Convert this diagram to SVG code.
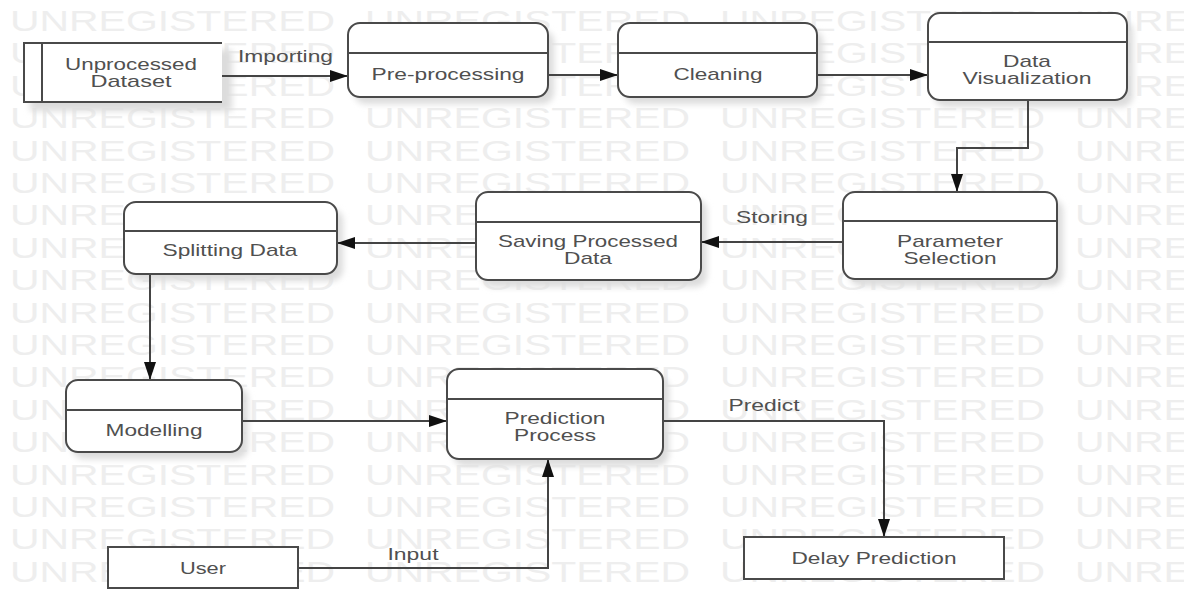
<svg xmlns="http://www.w3.org/2000/svg" xmlns:xlink="http://www.w3.org/1999/xlink" width="1184" height="590" viewBox="0 0 1184 590">
<style>
.wm{font-family:"Liberation Sans",Arial,sans-serif;font-size:29px;fill:#eeeeee}
.box{fill:#fff;stroke:#4a4a4a;stroke-width:2}
.div{stroke:#4a4a4a;stroke-width:2;fill:none}
.sh{fill:#dcdcdc;filter:url(#blur)}
.t{font-family:"Liberation Sans",Arial,sans-serif;font-size:17px;fill:#505050;text-anchor:middle}
.c{fill:none;stroke:#444;stroke-width:2;marker-end:url(#ah)}
</style>
<defs>
<filter id="blur" x="-10%" y="-20%" width="120%" height="140%"><feGaussianBlur stdDeviation="3"/></filter>
<marker id="ah" markerUnits="userSpaceOnUse" markerWidth="18" markerHeight="12" refX="18" refY="6" orient="auto"><path d="M0,0 L18,6 L0,12 z" fill="#111"/></marker>
<g id="wmrow">
<text class="wm" x="10" y="0" textLength="325" lengthAdjust="spacingAndGlyphs">UNREGISTERED</text>
<text class="wm" x="365" y="0" textLength="325" lengthAdjust="spacingAndGlyphs">UNREGISTERED</text>
<text class="wm" x="720" y="0" textLength="325" lengthAdjust="spacingAndGlyphs">UNREGISTERED</text>
<text class="wm" x="1075" y="0" textLength="325" lengthAdjust="spacingAndGlyphs">UNREGISTERED</text>
</g>
</defs>
<rect width="1184" height="590" fill="#fff"/>
<g id="watermark">
<use xlink:href="#wmrow" y="31"/>
<use xlink:href="#wmrow" y="63"/>
<use xlink:href="#wmrow" y="96"/>
<use xlink:href="#wmrow" y="128"/>
<use xlink:href="#wmrow" y="161"/>
<use xlink:href="#wmrow" y="193"/>
<use xlink:href="#wmrow" y="225"/>
<use xlink:href="#wmrow" y="258"/>
<use xlink:href="#wmrow" y="290"/>
<use xlink:href="#wmrow" y="323"/>
<use xlink:href="#wmrow" y="355"/>
<use xlink:href="#wmrow" y="387"/>
<use xlink:href="#wmrow" y="420"/>
<use xlink:href="#wmrow" y="452"/>
<use xlink:href="#wmrow" y="485"/>
<use xlink:href="#wmrow" y="517"/>
<use xlink:href="#wmrow" y="549"/>
<use xlink:href="#wmrow" y="582"/>
</g>
<g id="shadows">
<rect class="sh" x="30" y="50" width="202" height="61"/>
<rect class="sh" x="354" y="30" width="200" height="74" rx="12"/>
<rect class="sh" x="624" y="30" width="199" height="74" rx="12"/>
<rect class="sh" x="934" y="20" width="199" height="87" rx="12"/>
<rect class="sh" x="849" y="199" width="214" height="87" rx="12"/>
<rect class="sh" x="482" y="199" width="225" height="88" rx="12"/>
<rect class="sh" x="130" y="209" width="213" height="72" rx="12"/>
<rect class="sh" x="72" y="387" width="176" height="72" rx="12"/>
<rect class="sh" x="453" y="376" width="216" height="90" rx="12"/>
</g>
<g id="connectors">
<path class="c" d="M222,76 H348"/>
<path class="c" d="M548,75 H618"/>
<path class="c" d="M817,75 H928"/>
<path class="c" d="M1028,100 V148 H957 V192"/>
<path class="c" d="M843,242 H701"/>
<path class="c" d="M476,243 H337"/>
<path class="c" d="M150,274 V380"/>
<path class="c" d="M242,421 H447"/>
<path class="c" d="M663,421 H884 V537"/>
<path class="c" d="M298,568 H548 V459"/>
<text class="t" x="285.5" y="62" textLength="95" lengthAdjust="spacingAndGlyphs">Importing</text>
<text class="t" x="772" y="223" textLength="72" lengthAdjust="spacingAndGlyphs">Storing</text>
<text class="t" x="764" y="411" textLength="71" lengthAdjust="spacingAndGlyphs">Predict</text>
<text class="t" x="413" y="560" textLength="51" lengthAdjust="spacingAndGlyphs">Input</text>
</g>
<g id="unprocessed">
<rect x="24" y="43" width="198" height="59" fill="#fff"/>
<path class="div" d="M222,43 H24 V102 H222 M42,43 V102"/>
<text class="t" x="131" y="70" textLength="132" lengthAdjust="spacingAndGlyphs">Unprocessed</text>
<text class="t" x="131" y="87" textLength="81" lengthAdjust="spacingAndGlyphs">Dataset</text>
</g>
<g id="preprocessing">
<rect class="box" x="348" y="23" width="200" height="74" rx="12"/>
<path class="div" d="M348,53 H548"/>
<text class="t" x="448" y="80" textLength="153" lengthAdjust="spacingAndGlyphs">Pre-processing</text>
</g>
<g id="cleaning">
<rect class="box" x="618" y="23" width="199" height="74" rx="12"/>
<path class="div" d="M618,53 H817"/>
<text class="t" x="718" y="80" textLength="89" lengthAdjust="spacingAndGlyphs">Cleaning</text>
</g>
<g id="datavis">
<rect class="box" x="928" y="13" width="199" height="87" rx="12"/>
<path class="div" d="M928,42 H1127"/>
<text class="t" x="1027" y="67" textLength="48" lengthAdjust="spacingAndGlyphs">Data</text>
<text class="t" x="1027" y="84" textLength="129" lengthAdjust="spacingAndGlyphs">Visualization</text>
</g>
<g id="parameter">
<rect class="box" x="843" y="192" width="214" height="87" rx="12"/>
<path class="div" d="M843,221 H1057"/>
<text class="t" x="950" y="247" textLength="106" lengthAdjust="spacingAndGlyphs">Parameter</text>
<text class="t" x="950" y="264" textLength="93" lengthAdjust="spacingAndGlyphs">Selection</text>
</g>
<g id="saving">
<rect class="box" x="476" y="192" width="225" height="88" rx="12"/>
<path class="div" d="M476,222 H701"/>
<text class="t" x="588" y="247" textLength="180" lengthAdjust="spacingAndGlyphs">Saving Processed</text>
<text class="t" x="588" y="264" textLength="48" lengthAdjust="spacingAndGlyphs">Data</text>
</g>
<g id="splitting">
<rect class="box" x="124" y="202" width="213" height="72" rx="12"/>
<path class="div" d="M124,231 H337"/>
<text class="t" x="230" y="256" textLength="135" lengthAdjust="spacingAndGlyphs">Splitting Data</text>
</g>
<g id="modelling">
<rect class="box" x="66" y="380" width="176" height="72" rx="12"/>
<path class="div" d="M66,410 H242"/>
<text class="t" x="154" y="436" textLength="97" lengthAdjust="spacingAndGlyphs">Modelling</text>
</g>
<g id="prediction">
<rect class="box" x="447" y="369" width="216" height="90" rx="12"/>
<path class="div" d="M447,399 H663"/>
<text class="t" x="555" y="424" textLength="101" lengthAdjust="spacingAndGlyphs">Prediction</text>
<text class="t" x="555" y="441" textLength="82" lengthAdjust="spacingAndGlyphs">Process</text>
</g>
<g id="delay">
<rect class="box" x="744" y="537" width="260" height="42"/>
<text class="t" x="874" y="564" textLength="165" lengthAdjust="spacingAndGlyphs">Delay Prediction</text>
</g>
<g id="user">
<rect class="box" x="108" y="547" width="190" height="41"/>
<text class="t" x="203" y="574" textLength="46" lengthAdjust="spacingAndGlyphs">User</text>
</g>
</svg>
